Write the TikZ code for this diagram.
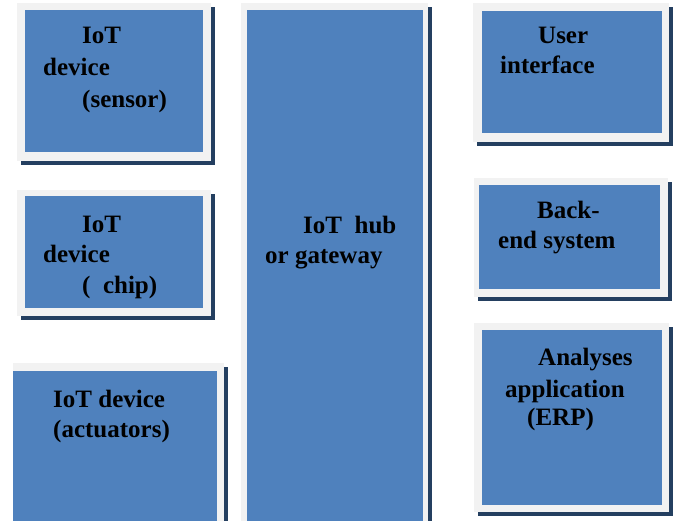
\documentclass[tikz,border=0pt]{standalone}
\usepackage{fontspec}
\setmainfont{Liberation Serif}
\definecolor{boxblue}{HTML}{4F81BD}
\definecolor{framegray}{HTML}{F2F2F2}
\definecolor{shadowblue}{HTML}{243F60}
\tikzset{
  shadowrect/.style={fill=shadowblue, draw=none},
  framerect/.style={fill=framegray, draw=none},
  bluebox/.style={fill=boxblue, draw=none, inner sep=0pt, anchor=north west},
  lbl/.style={anchor=base west, inner sep=0pt, font=\fontsize{25}{30}\selectfont\bfseries, text=black}
}
\newcommand{\ibox}[9]{%
  % name, frame x1,y1,x2,y2, blue x1,y1,x2,y2
  \fill[shadowrect] (#2+4,#3+4) rectangle (#4+4,#5+4);
  \fill[framerect] (#2,#3) rectangle (#4,#5);
  \node[bluebox, minimum width={(#8-#6)*1pt}, minimum height={(#9-#7)*1pt}] (#1) at (#6,#7) {};
}
\begin{document}
\begin{tikzpicture}[x=1pt,y=-1pt]
\useasboundingbox (0,0) rectangle (677,520);
\clip (0,0) rectangle (677,520);
\fill[white] (0,0) rectangle (677,520);
\ibox{sensor}{17}{3}{211}{161}{25}{10}{203}{152}
\ibox{chip}{17}{190}{211}{316}{25}{196}{203}{308}
\ibox{act}{13}{363}{224}{530}{13}{371}{217}{530}
\ibox{hub}{241}{3}{428}{530}{247}{10}{423}{530}
\ibox{ui}{473}{3}{669}{142}{482}{11}{662}{133}
\ibox{back}{474}{178}{668}{297}{479}{185}{660}{289}
\ibox{ana}{474}{323}{669}{512}{482}{330}{662}{505}
% labels
\node[lbl] (s1) at (82,43) {IoT};
\node[lbl] (s2) at (43,75) {device};
\node[lbl] (s3) at (82,107) {(sensor)};
\node[lbl] (c1) at (82,232) {IoT};
\node[lbl] (c2) at (43,262) {device};
\node[lbl] (c3) at (82,293) {(\ \ chip)};
\node[lbl] (a1) at (53,407) {IoT device};
\node[lbl] (a2) at (53,437) {(actuators)};
\node[lbl] (h1) at (303,233) {IoT\ \ hub};
\node[lbl] (h2) at (265,263) {or gateway};
\node[lbl] (u1) at (538,43) {User};
\node[lbl] (u2) at (500,73) {interface};
\node[lbl] (b1) at (537,218) {Back-};
\node[lbl] (b2) at (498,248) {end system};
\node[lbl] (n1) at (538,365) {Analyses};
\node[lbl] (n2) at (505,397) {application};
\node[lbl] (n3) at (527,425) {(ERP)};
\end{tikzpicture}
\end{document}
